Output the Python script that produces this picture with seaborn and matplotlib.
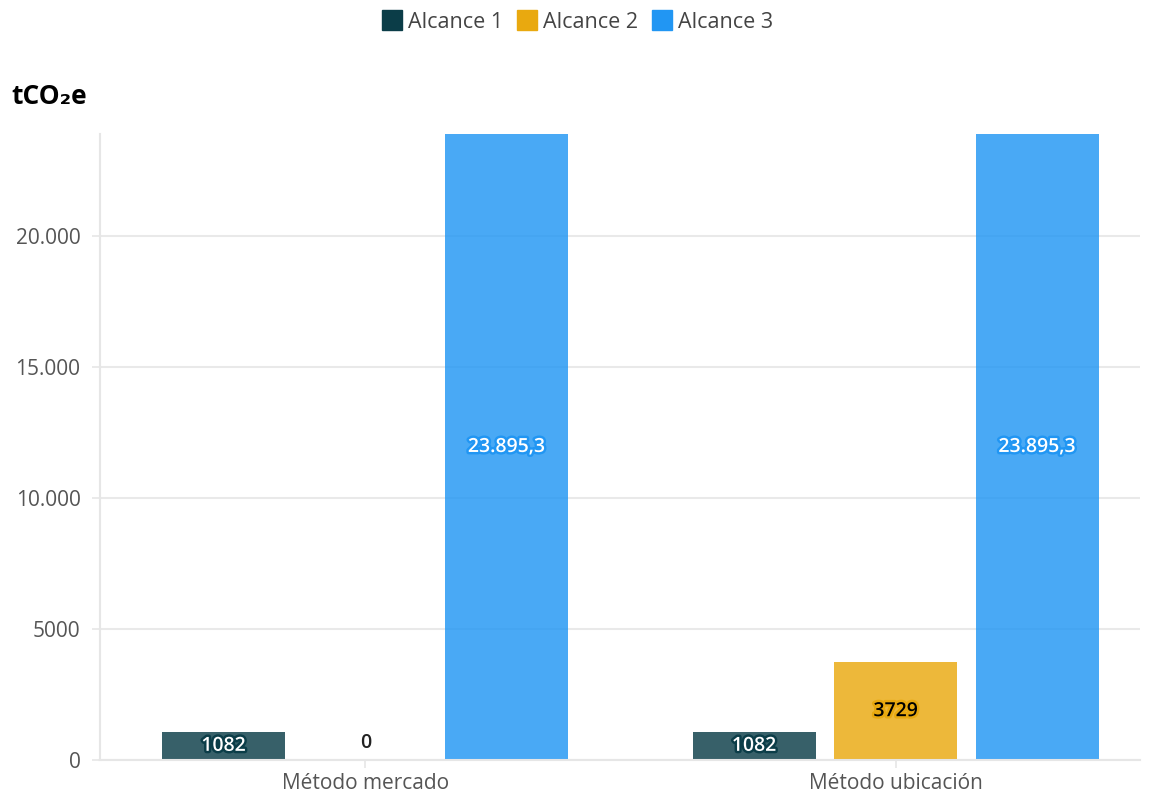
import numpy as np
import pandas as pd
import matplotlib.pyplot as plt
import matplotlib.patheffects as pe
from matplotlib.lines import Line2D
import seaborn as sns

categories = ["Método mercado", "Método ubicación"]
series_names = ["Alcance 1", "Alcance 2", "Alcance 3"]
alcance_1 = [1082, 1082]
alcance_2 = [0, 3729]
alcance_3 = [23895.3, 23895.3]
colors = ["#0b3d48", "#e9a90f", "#2196f3"]
yticks = [0, 5000, 10000, 15000, 20000]


def fmt_es(v):
    # spanish style: 4 digit numbers without separator
    if float(v).is_integer():
        s = str(int(v))
        if abs(v) >= 10000:
            s = f"{int(v):,}".replace(",", ".")
        return s
    s = f"{v:,.1f}"
    return s.replace(",", "X").replace(".", ",").replace("X", ".")


df = pd.DataFrame({
    "categoria": categories * 3,
    "serie": [s for s in series_names for _ in categories],
    "valor": alcance_1 + alcance_2 + alcance_3,
})

sns.set_theme(style="white")
plt.rcParams["font.family"] = ["Open Sans", "DejaVu Sans"]

fig = plt.figure(figsize=(11.56, 7.93), dpi=100)
ax = fig.add_axes([0.0865, 0.0416, 0.8995, 0.7895])

sns.barplot(data=df, x="categoria", y="valor", hue="serie", palette=colors,
            saturation=1, width=0.8, gap=0.13, alpha=0.82, linewidth=0,
            ax=ax, legend=False)

ax.set_ylim(0, max(alcance_3))
ax.set_xlim(-0.5, 1.46)
ax.set_yticks(yticks)
ax.set_yticklabels([fmt_es(v) for v in yticks])
ax.yaxis.grid(True, color="#e9e9e9", linewidth=1.5)
ax.set_axisbelow(True)
ax.set_xlabel("")
ax.set_ylabel("")
ax.tick_params(axis="y", labelsize=15, labelcolor="#555555", length=6, color="#e6e6e6", width=1.2, left=True, pad=8)
ax.tick_params(axis="x", labelsize=15, labelcolor="#555555", length=6, color="#e6e6e6", width=1.2, bottom=True, pad=3)
for side in ["top", "right"]:
    ax.spines[side].set_visible(False)
ax.spines["left"].set_color("#e6e6e6")
ax.spines["left"].set_linewidth(1.5)
ax.spines["bottom"].set_color("#e6e6e6")
ax.spines["bottom"].set_linewidth(1.5)

# value labels
text_styles = [("white", colors[0]), ("black", colors[1]), ("white", colors[2])]
for container, (tc, sc) in zip(ax.containers, text_styles):
    for bar in container:
        h = bar.get_height()
        x = bar.get_x() + bar.get_width() / 2
        if h == 0:
            ax.text(x, 250, fmt_es(h), ha="center", va="bottom", fontsize=14,
                    color="#222222", fontweight="semibold")
            continue
        ax.text(x, h / 2, fmt_es(h), ha="center", va="center", fontsize=14,
                color=tc, fontweight="semibold",
                path_effects=[pe.withStroke(linewidth=3.5, foreground=sc)])

fig.text(0.01, 0.878, "tCO₂e", fontsize=19, fontweight="bold", color="black", va="center")

handles = [Line2D([0], [0], marker="s", linestyle="", markersize=14,
                  markerfacecolor=c, markeredgecolor=c) for c in colors]
fig.legend(handles, series_names, loc="center", bbox_to_anchor=(0.5, 0.972),
           ncol=3, frameon=False, fontsize=15.5, handlelength=0.8,
           handletextpad=0.35, columnspacing=0.7, labelcolor="#444444")

plt.savefig("out.png", dpi=100)
